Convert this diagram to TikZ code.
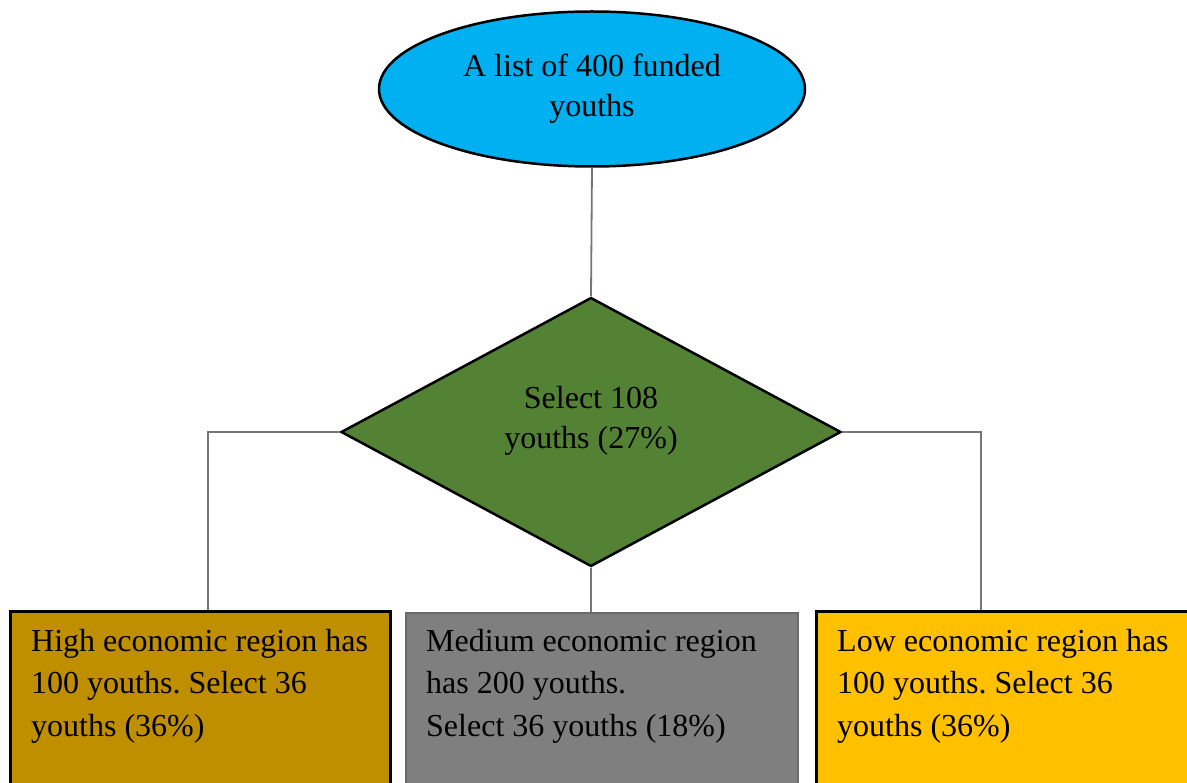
\documentclass[tikz,border=0pt]{standalone}
\usepackage{fontspec}
\setmainfont{Liberation Serif}
\usetikzlibrary{shapes.geometric}
\frenchspacing
\definecolor{ellblue}{HTML}{00B0F0}
\definecolor{diagreen}{HTML}{548235}
\definecolor{hiyellow}{HTML}{BF8F00}
\definecolor{medgray}{HTML}{7F7F7F}
\definecolor{medborder}{HTML}{6A6A6A}
\definecolor{loyellow}{HTML}{FFC000}
\definecolor{conngray}{HTML}{767676}
\tikzset{
  conn/.style={draw=conngray, line width=1.8pt},
  regionbox/.style={rectangle, draw=black, line width=2.5pt, minimum height=200pt, inner sep=0pt, anchor=north west},
  boxtext/.style={anchor=north west, align=left, inner sep=0pt, font=\frenchspacing\fontsize{32}{42.5}\selectfont},
  maintext/.style={align=center, inner sep=0pt, font=\fontsize{32}{40}\selectfont}
}
\begin{document}
\begin{tikzpicture}[x=1pt, y=-1pt]
\clip (0,0) rectangle (1187,783);
\fill[white] (0,0) rectangle (1187,783);
% top ellipse
\node[ellipse, draw=black, line width=2.5pt, fill=ellblue, minimum width=426pt, minimum height=155pt, inner sep=0pt] (list) at (592,89) {};
\node[maintext] (listtext) at (592,89) {A list of 400 funded\\youths};
% diamond
\node[diamond, draw=black, line width=2.5pt, fill=diagreen, minimum width=500pt, minimum height=269pt, inner sep=0pt] (dia) at (591,432) {};
\node[maintext] (diatext) at (591,421) {Select 108\\youths (27\%)};
% region boxes
\node[regionbox, fill=hiyellow, minimum width=380pt] (hi) at (9,610) {};
\node[regionbox, fill=medgray, draw=medborder, line width=1.5pt, minimum width=392pt] (med) at (405,612) {};
\node[regionbox, fill=loyellow, minimum width=400pt] (lo) at (815,610) {};
\node[boxtext] (hitext) at (31,629) {High economic region has\\100 youths. Select 36\\youths (36\%)};
\node[boxtext] (medtext) at (426,629) {Medium economic region\\has 200 youths.\\Select 36 youths (18\%)};
\node[boxtext] (lotext) at (837,629) {Low economic region has\\100 youths. Select 36\\youths (36\%)};
% connectors
\coordinate (hitop) at (208,610);
\coordinate (lotop) at (981,610);
\draw[conn] (list.south) -- (dia.north);
\draw[conn] (dia.west) -| (hitop);
\draw[conn] (dia.east) -| (lotop);
\draw[conn] (dia.south) -- (dia.south |- med.north);
\end{tikzpicture}
\end{document}
